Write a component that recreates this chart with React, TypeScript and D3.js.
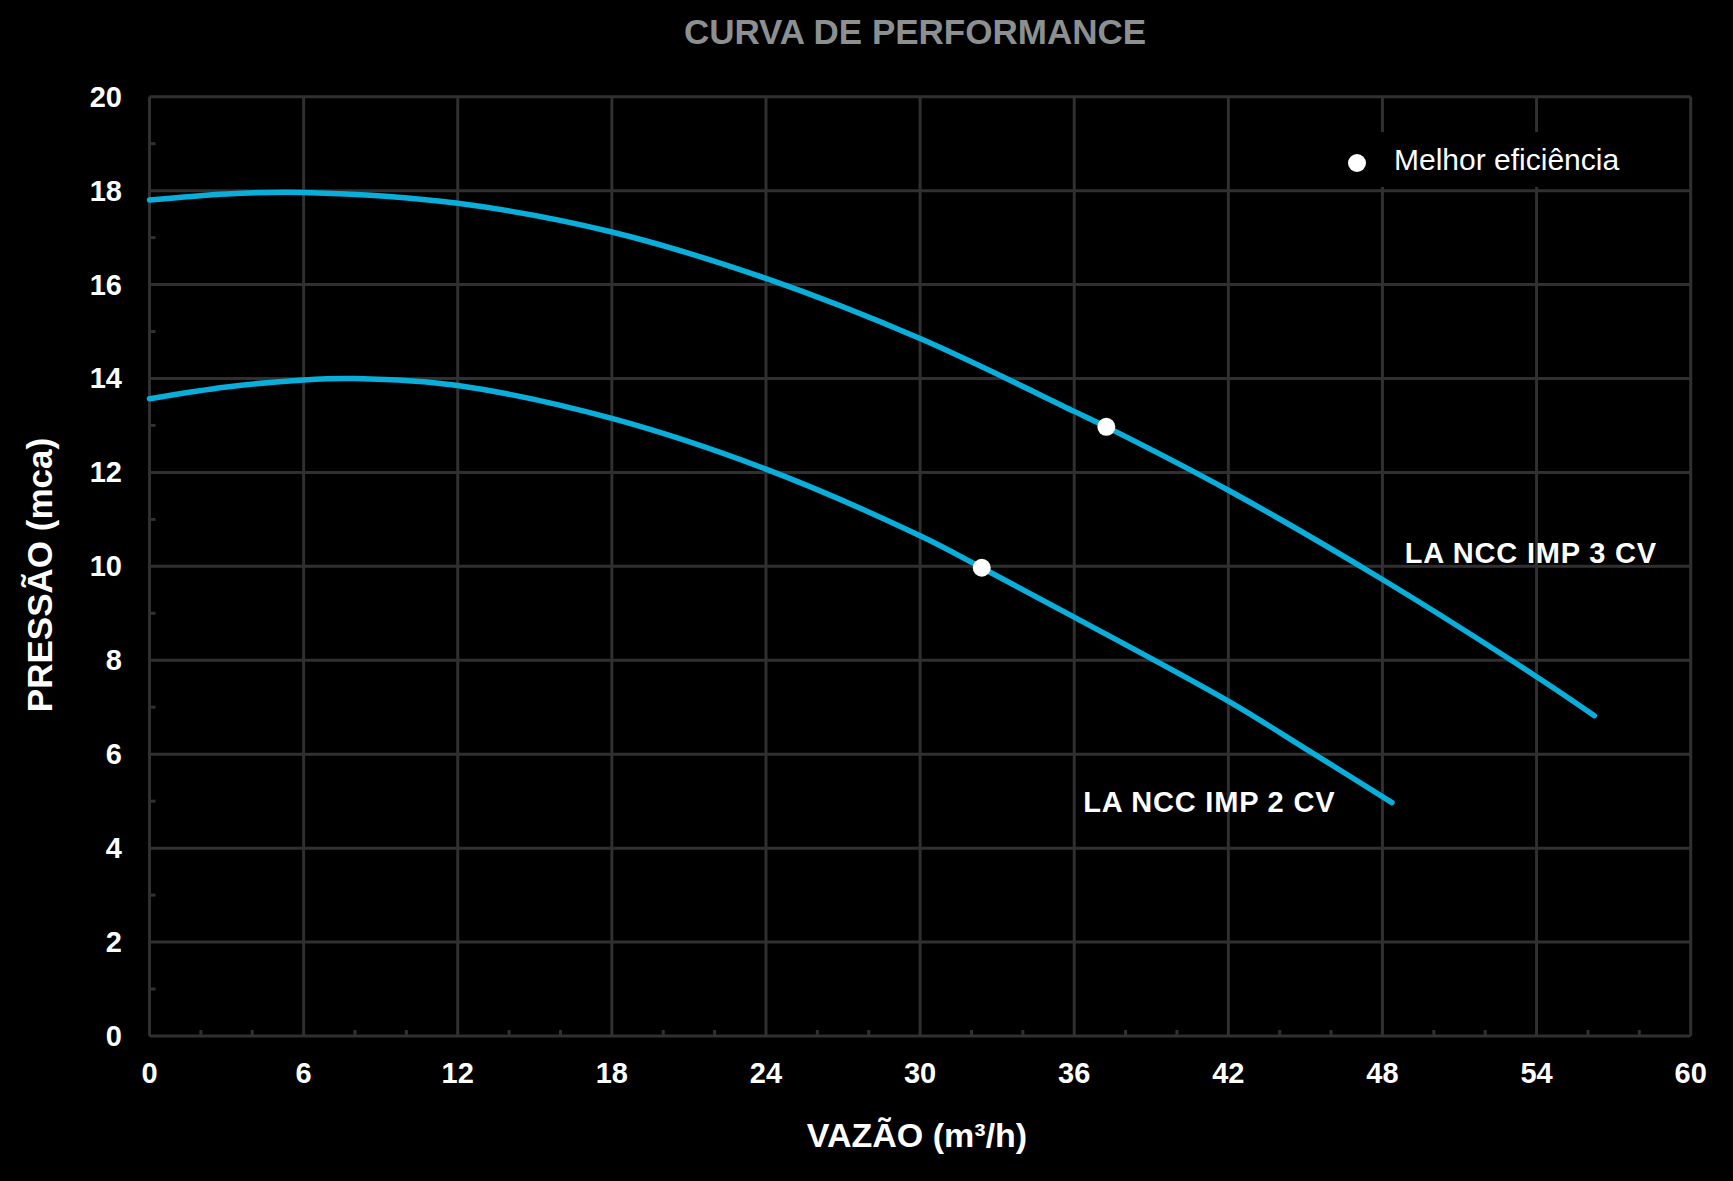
import React from "react";
import * as d3 from "d3";

const W = 1733;
const H = 1181;

const xTicks = [0, 6, 12, 18, 24, 30, 36, 42, 48, 54, 60];
const yTicks = [0, 2, 4, 6, 8, 10, 12, 14, 16, 18, 20];
const xMinor = [2, 4, 8, 10, 14, 16, 20, 22, 26, 28, 32, 34, 38, 40, 44, 46, 50, 52, 56, 58];
const yMinor = [1, 3, 5, 7, 9, 11, 13, 15, 17, 19];

const flow3 = [0, 3, 6, 12, 18, 24, 30, 36, 37.25, 42, 48, 54, 56.25];
const head3 = [17.8, 17.93, 17.96, 17.73, 17.12, 16.13, 14.85, 13.3, 12.97, 11.62, 9.72, 7.65, 6.82];
const flow2 = [0, 3, 6, 8, 12, 18, 24, 30, 32.4, 36, 42, 45, 48.37];
const head2 = [13.57, 13.82, 13.97, 14.0, 13.85, 13.15, 12.07, 10.65, 9.97, 8.92, 7.13, 6.12, 4.97];

const bepFlow = [37.25, 32.4];
const bepHead = [12.97, 9.97];

const seriesNames = ["LA NCC IMP 3 CV", "LA NCC IMP 2 CV"];
const labelPos = [
  [48.87, 10.08],
  [36.35, 4.76],
];

const FONT = "'Liberation Sans', Arial, Helvetica, sans-serif";
const GRID = "#303030";
const BLUE = "#0aaedb";

export default function App() {
  const x = d3.scaleLinear().domain([0, 60]).range([149.5, 1690.7]);
  const y = d3.scaleLinear().domain([0, 20]).range([1036, 96.7]);
  const line = d3
    .line<[number, number]>()
    .x((d) => x(d[0]))
    .y((d) => y(d[1]))
    .curve(d3.curveCatmullRom.alpha(0.5));

  const series = [
    flow3.map((f, i) => [f, head3[i]] as [number, number]),
    flow2.map((f, i) => [f, head2[i]] as [number, number]),
  ];

  return (
    <svg
      width={W}
      height={H}
      style={{ position: "absolute", left: 0, top: 0, display: "block", background: "#000" }}
      fontFamily={FONT}
    >
      <rect x={0} y={0} width={W} height={H} fill="#000" />
      <text x={915} y={44} textAnchor="middle" fontSize={35} fontWeight="bold" fill="#8c9090">
        CURVA DE PERFORMANCE
      </text>

      {/* grid */}
      {xTicks.map((t) => (
        <line key={"gx" + t} x1={x(t)} x2={x(t)} y1={y(0)} y2={y(20)} stroke={GRID} strokeWidth={3} />
      ))}
      {yTicks.map((t) => (
        <line key={"gy" + t} x1={x(0)} x2={x(60)} y1={y(t)} y2={y(t)} stroke={GRID} strokeWidth={3} />
      ))}
      {xMinor.map((t) => (
        <line key={"mx" + t} x1={x(t)} x2={x(t)} y1={y(0)} y2={y(0) - 6} stroke={GRID} strokeWidth={3} />
      ))}
      {yMinor.map((t) => (
        <line key={"my" + t} x1={x(0)} x2={x(0) + 6} y1={y(t)} y2={y(t)} stroke={GRID} strokeWidth={3} />
      ))}

      {/* tick labels */}
      {xTicks.map((t) => (
        <text key={"tx" + t} x={x(t)} y={1083} textAnchor="middle" fontSize={29} fontWeight="bold" fill="#fff">
          {t}
        </text>
      ))}
      {yTicks.map((t) => (
        <text key={"ty" + t} x={122} y={y(t) + 10} textAnchor="end" fontSize={29} fontWeight="bold" fill="#fff">
          {t}
        </text>
      ))}

      {/* axis titles */}
      <text x={917} y={1147} textAnchor="middle" fontSize={34} fontWeight="bold" fill="#fff">
        VAZÃO (m³/h)
      </text>
      <text
        transform="translate(52,575) rotate(-90)"
        textAnchor="middle"
        fontSize={35}
        fontWeight="bold"
        fill="#fff"
      >
        PRESSÃO (mca)
      </text>

      {/* legend */}
      <rect x={1335} y={132} width={345} height={55} fill="#000" />
      <circle cx={1357} cy={163} r={9} fill="#fff" />
      <text x={1394} y={170} fontSize={30} fill="#fff">
        Melhor eficiência
      </text>

      {/* curves */}
      {series.map((s, i) => (
        <path key={"s" + i} d={line(s) || ""} fill="none" stroke={BLUE} strokeWidth={5.5} strokeLinecap="round" />
      ))}
      {bepFlow.map((f, i) => (
        <circle key={"b" + i} cx={x(f)} cy={y(bepHead[i])} r={9} fill="#fff" />
      ))}

      {seriesNames.map((n, i) => (
        <text
          key={"n" + i}
          x={x(labelPos[i][0])}
          y={y(labelPos[i][1])}
          fontSize={29}
          fontWeight="bold"
          letterSpacing={0.8}
          fill="#fff"
        >
          {n}
        </text>
      ))}
    </svg>
  );
}
